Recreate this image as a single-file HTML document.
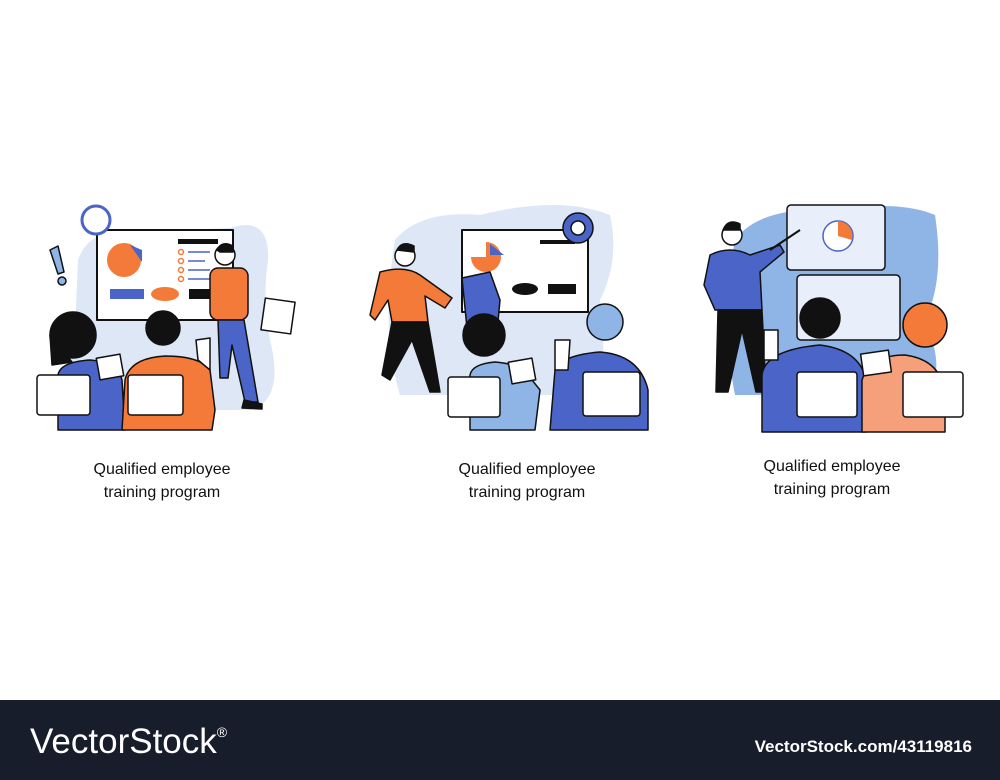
<!DOCTYPE html>
<html><head><meta charset="utf-8"><style>
body{margin:0;width:1000px;height:780px;background:#fff;overflow:hidden;font-family:"Liberation Sans",sans-serif}
svg{position:absolute;left:0;top:0}
</style></head><body>
<svg width="1000" height="780" viewBox="0 0 1000 780" xmlns="http://www.w3.org/2000/svg">
<g stroke="#111" stroke-width="1.5" stroke-linejoin="round">
<!-- Scene 1 -->
<path d="M78 260 Q90 225 140 232 L230 228 Q270 215 268 260 Q262 300 270 340 Q285 400 250 410 L80 410 Q60 360 75 330 Z" fill="#dde7f5" stroke="none"/>
<rect x="97" y="230" width="136" height="90" fill="#fff" stroke-width="2"/>
<circle cx="124" cy="260" r="17" fill="#f47a3a" stroke="none"/>
<path d="M130 245 L142 250 L142 262 Z" fill="#4a64c8" stroke="none"/>
<rect x="178" y="239" width="40" height="5" fill="#111" stroke="none"/>
<g fill="none" stroke="#f47a3a"><circle cx="181" cy="252" r="2.5"/><circle cx="181" cy="261" r="2.5"/><circle cx="181" cy="270" r="2.5"/><circle cx="181" cy="279" r="2.5"/></g>
<g stroke="#4a64c8"><line x1="188" y1="252" x2="210" y2="252"/><line x1="188" y1="261" x2="205" y2="261"/><line x1="188" y1="270" x2="210" y2="270"/><line x1="188" y1="279" x2="212" y2="279"/></g>
<rect x="110" y="289" width="34" height="10" fill="#4a64c8" stroke="none"/>
<ellipse cx="165" cy="294" rx="14" ry="7" fill="#f47a3a" stroke="none"/>
<rect x="189" y="289" width="24" height="10" fill="#111" stroke="none"/>
<circle cx="96" cy="220" r="14" fill="#fff" stroke="#4a64c8" stroke-width="3"/>
<path d="M50 250 L58 246 L64 272 L58 274 Z" fill="#8fb4e6"/><circle cx="62" cy="281" r="4" fill="#8fb4e6"/>
<rect x="263" y="300" width="30" height="32" fill="#fff" transform="rotate(8 278 316)"/>
<circle cx="225" cy="255" r="10" fill="#fff"/><path d="M217 250 Q222 240 233 246 L233 252 L220 252 Z" fill="#111"/>
<rect x="210" y="268" width="38" height="52" rx="8" fill="#f47a3a"/>
<path d="M218 320 L244 320 L258 402 L245 402 L232 345 L228 378 L220 378 Z" fill="#4a64c8"/>
<path d="M244 400 L262 404 L262 409 L242 408 Z" fill="#111"/>
<path d="M58 375 Q60 362 90 360 Q118 362 122 380 L125 430 L58 430 Z" fill="#4a64c8"/>
<circle cx="73" cy="335" r="23" fill="#111"/><path d="M50 335 L52 365 L72 362 Z" fill="#111"/>
<path d="M125 380 Q130 358 165 356 Q200 356 210 370 L215 410 L212 430 L122 430 Z" fill="#f47a3a"/>
<path d="M198 360 L196 340 L210 338 L210 370 Z" fill="#fff"/>
<circle cx="163" cy="328" r="17" fill="#111"/>
<rect x="98" y="356" width="24" height="22" fill="#fff" transform="rotate(-10 110 367)"/>
<rect x="37" y="375" width="53" height="40" rx="3" fill="#fff"/>
<rect x="128" y="375" width="55" height="40" rx="3" fill="#fff"/>
<!-- Scene 2 -->
<path d="M395 240 Q420 210 480 215 Q560 195 610 215 Q620 260 600 300 Q610 380 590 395 L400 395 Q380 330 395 240 Z" fill="#dde7f5" stroke="none"/>
<rect x="462" y="230" width="126" height="82" fill="#fff" stroke-width="2"/>
<path d="M471 257 A15 15 0 1 0 486 242 L486 257 Z" fill="#f47a3a" stroke="none"/>
<path d="M490 244 L504 255 L490 255 Z" fill="#4a64c8" stroke="none"/>
<rect x="540" y="240" width="35" height="4" fill="#111" stroke="none"/>
<rect x="548" y="284" width="28" height="10" fill="#111" stroke="none"/>
<ellipse cx="525" cy="289" rx="13" ry="6" fill="#111" stroke="none"/>
<circle cx="578" cy="228" r="15" fill="#4a64c8"/><circle cx="578" cy="228" r="7" fill="#fff"/>
<path d="M462 278 L490 272 L500 300 L497 332 L468 338 Z" fill="#4a64c8"/>
<circle cx="405" cy="256" r="10" fill="#fff"/><path d="M397 250 Q402 240 414 246 L414 252 Z" fill="#111"/>
<path d="M380 272 Q405 265 420 275 L452 298 L445 308 L425 296 L428 322 L392 322 L388 300 L375 320 L370 315 Z" fill="#f47a3a"/>
<path d="M392 322 L428 322 L440 392 L430 392 L412 340 L390 380 L382 375 Z" fill="#111"/>
<path d="M470 375 Q472 364 495 362 Q520 364 528 375 L540 390 L535 430 L470 430 Z" fill="#8fb4e6"/>
<circle cx="484" cy="335" r="21" fill="#111"/>
<path d="M555 370 Q562 355 600 352 Q640 355 648 390 L648 430 L550 430 Z" fill="#4a64c8"/>
<path d="M555 370 L555 340 L570 340 L568 370 Z" fill="#fff"/>
<circle cx="605" cy="322" r="18" fill="#8fb4e6"/>
<rect x="510" y="360" width="24" height="22" fill="#fff" transform="rotate(-10 522 371)"/>
<rect x="448" y="377" width="52" height="40" rx="3" fill="#fff"/>
<rect x="583" y="372" width="57" height="44" rx="3" fill="#fff"/>
<!-- Scene 3 -->
<path d="M735 240 Q760 205 840 210 Q900 200 935 215 Q945 280 925 320 Q950 380 920 395 L735 395 Q720 320 735 240 Z" fill="#8fb4e6" stroke="none"/>
<rect x="787" y="205" width="98" height="65" rx="4" fill="#e8eefa"/>
<circle cx="838" cy="236" r="15" fill="#fff" stroke="#4a64c8"/>
<path d="M838 236 L838 221 A15 15 0 0 1 852 240 Z" fill="#f47a3a" stroke="none"/>
<rect x="797" y="275" width="103" height="65" rx="4" fill="#e8eefa"/>
<circle cx="732" cy="235" r="10" fill="#fff"/><path d="M723 230 Q728 218 740 224 L740 230 Z" fill="#111"/>
<path d="M710 255 Q730 245 750 255 L780 245 L784 252 L760 272 L762 310 L715 310 L704 285 Z" fill="#4a64c8"/>
<line x1="770" y1="250" x2="800" y2="230" stroke-width="2"/>
<path d="M718 310 L762 310 L766 392 L756 392 L742 330 L728 392 L716 392 Z" fill="#111"/>
<path d="M762 375 Q765 350 820 345 Q860 350 866 380 L866 432 L762 432 Z" fill="#4a64c8"/>
<path d="M764 360 L764 330 L778 330 L778 360 Z" fill="#fff"/>
<circle cx="820" cy="318" r="20" fill="#111"/>
<path d="M862 380 Q870 355 905 355 Q942 360 945 395 L945 432 L862 432 Z" fill="#f5a07a"/>
<circle cx="925" cy="325" r="22" fill="#f47a3a"/>
<rect x="862" y="352" width="28" height="22" fill="#fff" transform="rotate(-8 876 363)"/>
<rect x="797" y="372" width="60" height="45" rx="3" fill="#fff"/>
<rect x="903" y="372" width="60" height="45" rx="3" fill="#fff"/>
</g>
<g font-family="Liberation Sans, sans-serif" font-size="16" fill="#111" text-anchor="middle">
<text x="162" y="474">Qualified employee</text><text x="162" y="497">training program</text>
<text x="527" y="474">Qualified employee</text><text x="527" y="497">training program</text>
<text x="832" y="471">Qualified employee</text><text x="832" y="494">training program</text>
</g>
<rect x="0" y="700" width="1000" height="80" fill="#181d2c"/>
<text x="30" y="753" font-family="Liberation Sans, sans-serif" font-size="35" fill="#fff">VectorStock<tspan font-size="14" dy="-16">®</tspan></text>
<text x="972" y="752" text-anchor="end" font-family="Liberation Sans, sans-serif" font-size="17" font-weight="bold" fill="#fff">VectorStock.com/43119816</text>
</svg>
</body></html>
